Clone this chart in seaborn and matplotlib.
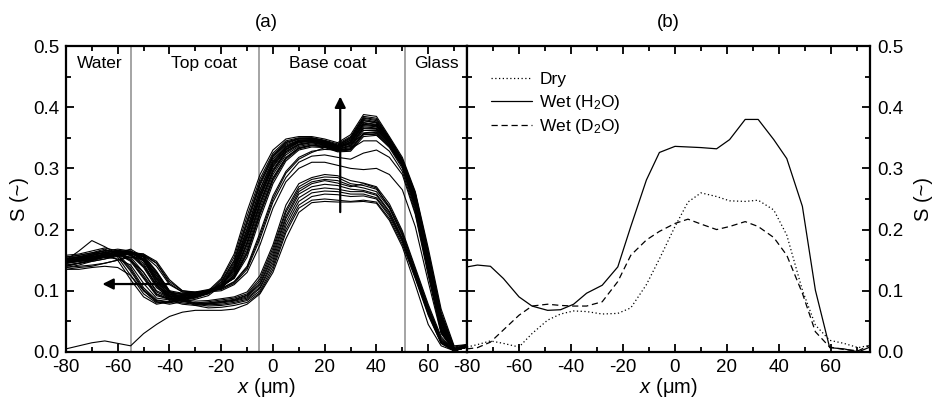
import numpy as np
import pandas as pd
import matplotlib
matplotlib.use("Agg")
import matplotlib.pyplot as plt
import seaborn as sns
from matplotlib.ticker import MultipleLocator

# ---------------- data ----------------
# panel (a): depth profiles during water uptake
x_a = [-80, -75, -70, -65, -60, -55, -50, -45, -40, -35, -30, -25, -20, -15, -10, -5,
       0, 5, 10, 15, 20, 25, 30, 35, 40, 45, 50, 55, 60, 65, 70, 75]

main_band = [
    [.148,.152,.158,.162,.150,.118,.090,.078,.082,.088,.092,.100,.120,.160,.230,.290,.330,.348,.352,.352,.348,.342,.355,.388,.385,.352,.318,.262,.170,.070,.010,.012],
    [.152,.155,.160,.165,.155,.125,.095,.080,.083,.086,.090,.098,.118,.155,.222,.283,.325,.345,.350,.350,.346,.340,.352,.385,.382,.350,.315,.260,.165,.065,.008,.012],
    [.145,.150,.155,.160,.158,.132,.100,.082,.080,.085,.090,.097,.115,.150,.215,.278,.322,.343,.349,.350,.345,.338,.350,.382,.378,.348,.314,.258,.160,.060,.006,.010],
    [.155,.158,.162,.168,.160,.138,.105,.085,.082,.084,.088,.095,.112,.145,.208,.272,.318,.340,.348,.348,.344,.337,.348,.380,.376,.347,.313,.256,.158,.058,.005,.010],
    [.140,.145,.150,.155,.152,.142,.112,.088,.085,.087,.090,.096,.110,.142,.202,.266,.315,.338,.346,.347,.343,.336,.346,.378,.374,.346,.312,.254,.155,.055,.005,.012],
    [.150,.148,.152,.158,.160,.148,.120,.092,.086,.088,.091,.095,.108,.138,.196,.260,.310,.335,.345,.346,.342,.335,.344,.375,.372,.345,.311,.252,.152,.052,.004,.010],
    [.158,.160,.165,.170,.165,.152,.125,.095,.087,.089,.092,.096,.106,.134,.190,.255,.306,.332,.344,.345,.341,.334,.342,.372,.370,.344,.310,.250,.150,.050,.004,.012],
    [.148,.150,.150,.155,.158,.155,.130,.098,.088,.090,.093,.097,.105,.130,.185,.250,.302,.330,.342,.344,.340,.333,.340,.370,.368,.343,.309,.248,.148,.048,.003,.010],
    [.152,.154,.156,.160,.162,.158,.138,.105,.090,.091,.094,.098,.104,.127,.180,.245,.298,.328,.340,.343,.339,.332,.338,.368,.366,.342,.308,.246,.145,.045,.003,.012],
    [.145,.148,.152,.158,.165,.160,.142,.110,.092,.092,.095,.099,.104,.125,.175,.240,.294,.325,.338,.342,.338,.331,.336,.365,.364,.341,.307,.244,.142,.042,.002,.010],
    [.150,.155,.160,.162,.166,.163,.148,.115,.094,.093,.095,.100,.105,.123,.170,.235,.290,.322,.336,.340,.337,.330,.334,.362,.362,.340,.306,.242,.140,.040,.002,.012],
    [.138,.142,.148,.152,.158,.162,.150,.120,.096,.094,.096,.100,.106,.122,.165,.230,.285,.318,.334,.338,.336,.329,.332,.358,.360,.338,.305,.240,.138,.038,.002,.010],
    [.155,.158,.162,.165,.168,.165,.152,.125,.098,.095,.097,.101,.107,.121,.160,.224,.280,.315,.332,.337,.335,.328,.330,.355,.357,.337,.304,.238,.135,.035,.002,.012],
    [.142,.145,.150,.156,.162,.168,.155,.130,.100,.096,.098,.102,.108,.120,.155,.218,.275,.312,.330,.335,.334,.327,.328,.352,.354,.336,.303,.236,.132,.032,.002,.010],
    [.150,.165,.182,.172,.160,.150,.130,.100,.090,.092,.094,.098,.110,.132,.188,.252,.304,.331,.343,.345,.340,.333,.342,.372,.369,.344,.310,.250,.150,.050,.004,.010],
    [.135,.135,.138,.140,.138,.125,.100,.082,.078,.082,.086,.092,.108,.140,.200,.265,.312,.336,.346,.347,.343,.336,.346,.378,.375,.346,.312,.254,.156,.056,.005,.010],
    [.148,.152,.157,.163,.158,.135,.102,.084,.081,.085,.089,.096,.114,.148,.212,.275,.320,.342,.348,.349,.345,.338,.350,.383,.380,.349,.314,.258,.162,.062,.006,.011],
    [.152,.156,.160,.166,.163,.150,.122,.094,.086,.088,.091,.096,.107,.136,.193,.258,.308,.334,.344,.345,.341,.334,.343,.374,.371,.345,.310,.251,.151,.051,.004,.011],
    [.146,.150,.154,.160,.164,.159,.140,.108,.091,.091,.094,.098,.104,.126,.178,.242,.296,.327,.339,.342,.338,.331,.337,.366,.365,.341,.307,.245,.144,.044,.003,.011],
    [.150,.153,.158,.163,.166,.164,.151,.122,.097,.094,.096,.100,.106,.121,.162,.227,.283,.317,.333,.338,.336,.329,.331,.357,.359,.338,.305,.239,.137,.037,.002,.011],
]

intermediate = [
    [.150,.152,.155,.158,.160,.162,.158,.140,.110,.098,.097,.099,.104,.115,.140,.195,.255,.295,.318,.328,.331,.330,.332,.345,.345,.328,.295,.228,.130,.035,.002,.010],
    [.145,.148,.150,.155,.158,.160,.158,.145,.115,.100,.098,.099,.102,.112,.135,.185,.245,.285,.310,.320,.322,.318,.315,.325,.330,.318,.290,.225,.125,.032,.002,.010],
    [.150,.150,.152,.155,.160,.163,.160,.148,.118,.100,.097,.098,.100,.110,.130,.175,.235,.278,.300,.310,.310,.305,.300,.298,.300,.290,.265,.205,.115,.030,.002,.010],
    [.148,.150,.153,.157,.160,.162,.160,.145,.112,.098,.096,.098,.103,.114,.138,.190,.250,.292,.315,.326,.334,.336,.340,.356,.355,.334,.300,.232,.132,.036,.002,.010],
]

early = [
    [.150,.152,.155,.160,.163,.165,.155,.120,.092,.085,.083,.084,.087,.090,.098,.125,.175,.240,.275,.285,.290,.288,.280,.276,.270,.242,.198,.138,.078,.025,.002,.008],
    [.145,.148,.152,.158,.160,.163,.152,.115,.088,.082,.080,.082,.085,.088,.095,.120,.170,.232,.270,.282,.286,.285,.275,.272,.266,.238,.195,.135,.075,.022,.002,.008],
    [.140,.145,.150,.155,.160,.162,.150,.112,.086,.080,.078,.080,.083,.086,.093,.116,.165,.228,.266,.278,.282,.280,.272,.268,.262,.235,.190,.132,.072,.020,.002,.008],
    [.155,.155,.158,.162,.165,.160,.145,.108,.084,.078,.076,.078,.081,.085,.092,.112,.160,.222,.262,.275,.280,.276,.270,.275,.268,.236,.192,.130,.070,.018,.002,.008],
    [.135,.138,.140,.145,.150,.158,.150,.118,.090,.083,.080,.080,.082,.084,.090,.110,.155,.218,.258,.270,.274,.272,.266,.264,.258,.230,.186,.128,.068,.018,.002,.008],
    [.150,.150,.153,.157,.160,.162,.155,.125,.095,.085,.080,.079,.080,.083,.088,.106,.150,.212,.252,.265,.268,.266,.262,.262,.256,.228,.184,.126,.066,.016,.002,.008],
    [.142,.145,.148,.152,.156,.160,.156,.130,.098,.086,.079,.077,.078,.081,.086,.104,.145,.206,.246,.260,.263,.262,.258,.258,.252,.225,.182,.124,.064,.015,.002,.008],
    [.148,.150,.152,.156,.160,.163,.158,.132,.100,.087,.078,.075,.076,.079,.084,.100,.140,.200,.240,.254,.258,.257,.254,.255,.250,.222,.180,.122,.062,.014,.002,.008],
    [.138,.140,.142,.145,.150,.155,.150,.128,.098,.085,.076,.072,.073,.076,.081,.097,.135,.195,.235,.248,.250,.248,.246,.248,.245,.218,.176,.120,.060,.014,.002,.008],
    [.005,.010,.015,.018,.014,.010,.030,.045,.058,.065,.068,.068,.068,.070,.078,.095,.130,.185,.228,.244,.246,.245,.245,.246,.243,.215,.172,.110,.045,.010,.002,.008],
]

# panel (b): dry / wet comparison
x_b = [-80, -76, -71, -66, -60, -55, -49, -44, -39, -34, -28, -22, -17, -11, -6,
       0, 5, 10, 16, 21, 27, 32, 38, 43, 49, 54, 59.5, 65, 70.5, 75]
dry = [.008, .012, .018, .014, .008, .030, .052, .062, .067, .066, .062, .063, .072, .110, .152,
       .205, .245, .260, .254, .247, .246, .248, .232, .191, .101, .044, .019, .014, .007, .011]
wet_h2o = [.139, .142, .140, .120, .090, .075, .068, .069, .078, .096, .109, .139, .205, .281, .326,
           .336, .335, .334, .332, .347, .380, .380, .347, .316, .238, .101, .007, .005, .000, .008]
wet_d2o = [.005, .007, .016, .036, .060, .075, .078, .076, .075, .075, .082, .115, .158, .183, .197,
           .210, .217, .209, .200, .205, .213, .205, .187, .158, .096, .033, .008, .004, .002, .011]

layer_bounds = [-55, -5.5, 51]
layer_names = ["Water", "Top coat", "Base coat", "Glass"]
layer_label_x = [-67, -26.5, 21, 63]

# ---------------- styling ----------------
sns.set_style("ticks")
plt.rcParams["font.family"] = ["Liberation Sans", "DejaVu Sans"]
plt.rcParams["mathtext.fontset"] = "custom"
plt.rcParams["mathtext.rm"] = "Liberation Sans"
plt.rcParams["mathtext.it"] = "Liberation Sans:italic"
plt.rcParams["xtick.direction"] = "in"
plt.rcParams["ytick.direction"] = "in"
plt.rcParams["axes.unicode_minus"] = False
plt.rcParams["text.color"] = "black"
plt.rcParams["axes.labelcolor"] = "black"
plt.rcParams["xtick.color"] = "black"
plt.rcParams["ytick.color"] = "black"
plt.rcParams["xtick.labelcolor"] = "black"
plt.rcParams["ytick.labelcolor"] = "black"

rows = []
for grp, curves in (("main", main_band), ("mid", intermediate), ("early", early)):
    for i, c in enumerate(curves):
        for xv, yv in zip(x_a, c):
            rows.append({"x": xv, "S": yv, "curve": f"{grp}{i}"})
df_a = pd.DataFrame(rows)

df_b = pd.concat([
    pd.DataFrame({"x": x_b, "S": dry, "state": "Dry"}),
    pd.DataFrame({"x": x_b, "S": wet_h2o, "state": "Wet (H$_2$O)"}),
    pd.DataFrame({"x": x_b, "S": wet_d2o, "state": "Wet (D$_2$O)"}),
])

fig = plt.figure(figsize=(9.45, 4.05), dpi=100)
ax1 = fig.add_axes([0.0698, 0.131, 0.4244, 0.7554])
ax2 = fig.add_axes([0.4942, 0.131, 0.4264, 0.7554])

sns.lineplot(data=df_a, x="x", y="S", units="curve", estimator=None,
             color="black", lw=0.8, ax=ax1, legend=False, sort=False)

sns.lineplot(data=df_b, x="x", y="S", style="state", estimator=None,
             color="black", lw=0.9, ax=ax2, sort=False,
             dashes={"Dry": (1, 2), "Wet (H$_2$O)": "", "Wet (D$_2$O)": (5, 3)})

for b in layer_bounds:
    ax1.axvline(b, color="#8c8c8c", lw=1.1, zorder=0)
for name, xv in zip(layer_names, layer_label_x):
    ax1.text(xv, 0.472, name, ha="center", va="center", fontsize=12.5, color="black")

ax1.annotate("", xy=(26, 0.422), xytext=(26, 0.224),
             arrowprops=dict(arrowstyle="-|>", color="black", lw=1.6, mutation_scale=16))
ax1.annotate("", xy=(-67, 0.111), xytext=(-39, 0.111),
             arrowprops=dict(arrowstyle="-|>", color="black", lw=1.6, mutation_scale=16))

for ax in (ax1, ax2):
    ax.set_xlim(-80, 75)
    ax.set_ylim(0, 0.5)
    ax.xaxis.set_major_locator(MultipleLocator(20))
    ax.xaxis.set_minor_locator(MultipleLocator(10))
    ax.yaxis.set_major_locator(MultipleLocator(0.1))
    ax.yaxis.set_minor_locator(MultipleLocator(0.05))
    ax.yaxis.set_major_formatter(matplotlib.ticker.FormatStrFormatter("%.1f"))
    ax.tick_params(which="both", top=True, bottom=True, left=True, right=True,
                   width=1.3, labelsize=13.5, pad=5, colors="black")
    ax.tick_params(which="major", length=6)
    ax.tick_params(which="minor", length=3.5)
    for sp in ax.spines.values():
        sp.set_linewidth(1.6)
        sp.set_color("black")
    ax.set_xlabel("$x$ (μm)", fontsize=14.5, labelpad=0, color="black")

ax1.set_ylabel("S (~)", fontsize=14.5, labelpad=3, color="black")
ax2.yaxis.set_label_position("right")
ax2.yaxis.tick_right()
ax2.tick_params(which="both", left=True, right=True, labelleft=False, labelright=True)
ax2.set_ylabel("S (~)", fontsize=14.5, labelpad=8, rotation=90, color="black")

ax1.set_title("(a)", fontsize=13.5, pad=14, color="black")
ax2.set_title("(b)", fontsize=13.5, pad=14, color="black")

leg = ax2.legend(loc="upper left", bbox_to_anchor=(0.02, 0.965), frameon=False,
                 fontsize=12.5, handlelength=2.4, handletextpad=0.4, labelspacing=0.3,
                 title=None)
for h in leg.get_lines():
    h.set_color("black")
    h.set_linewidth(0.9)
for t in leg.get_texts():
    t.set_color("black")

fig.savefig("out.png", dpi=100)
